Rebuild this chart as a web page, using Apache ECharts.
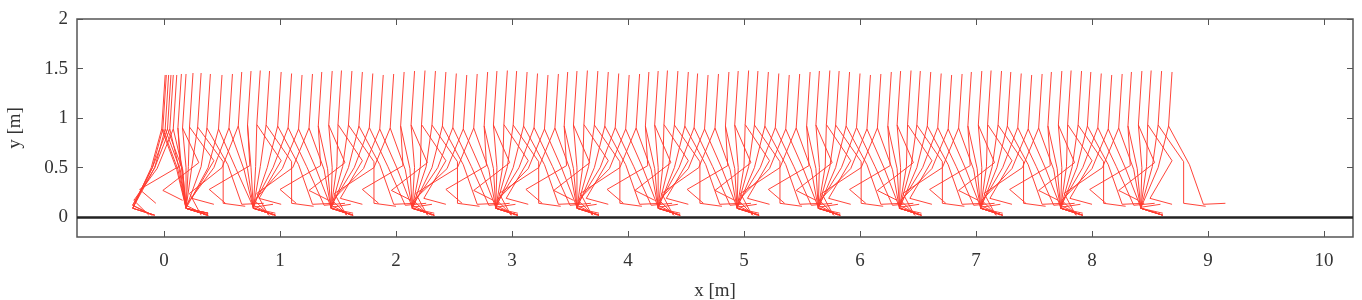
<!DOCTYPE html>
<html>
<head>
<meta charset="utf-8">
<script src="https://cdn.jsdelivr.net/npm/echarts@6/dist/echarts.min.js"></script>
<style>
  html, body { margin: 0; background: #fff; }
  #chart { width: 1362px; height: 300px; }
</style>
</head>
<body>
<div id="chart"></div>
<script>
const xTicks = [0, 1, 2, 3, 4, 5, 6, 7, 8, 9, 10]
const yTicks = [0, 0.5, 1, 1.5, 2]

// hip x of every frame (m)
const hipX = [
  -0.02, -0.01, 0.01, 0.03, 0.05, 0.08, 0.12, 0.16, 0.22, 0.29, 0.37,
  0.47, 0.56, 0.64, 0.72, 0.80, 0.88, 0.98, 1.07,
  1.16, 1.25, 1.33, 1.42, 1.50, 1.59, 1.68, 1.77,
  1.86, 1.95, 2.04, 2.13, 2.22, 2.31, 2.40, 2.49,
  2.58, 2.67, 2.76, 2.84, 2.93, 3.01, 3.10, 3.19,
  3.28, 3.37, 3.45, 3.53, 3.62, 3.71, 3.80, 3.89,
  3.98, 4.07, 4.15, 4.23, 4.31, 4.40, 4.49, 4.57,
  4.66, 4.75, 4.84, 4.92, 5.01, 5.09, 5.18, 5.27,
  5.36, 5.45, 5.54, 5.62, 5.71, 5.79, 5.88, 5.97,
  6.06, 6.15, 6.24, 6.32, 6.41, 6.49, 6.58, 6.67,
  6.76, 6.85, 6.93, 7.02, 7.10, 7.19, 7.27, 7.36,
  7.45, 7.54, 7.62, 7.71, 7.79, 7.88, 7.96, 8.05,
  8.14, 8.23, 8.31, 8.40, 8.48, 8.57, 8.66,
]
// hip height during the first frames, then by step phase
const startHipY = [0.89, 0.89, 0.89, 0.89, 0.89, 0.89, 0.90, 0.90, 0.91, 0.91, 0.90]
const stepHipY = [0.89, 0.90, 0.92, 0.93, 0.935, 0.93, 0.92, 0.905]
const torsoLen = 0.545
const torsoLean = 0.03

// gait phase of each leg in the start-up frames (after that one stride = 16 frames)
const startPhaseL = [6, 6, 6, 7, 7, 8, 10, 11, 12, 13, 14]
const startPhaseR = [1, 1, 1, 1, 2, 2, 3, 3, 4, 5, 5, 6, 7, 9, 10, 12, 13, 14, 15]
// ankle positions on the ground (m)
const footL = [-0.27, 0.77, 2.14, 3.56, 4.94, 6.34, 7.73]
const footR = [0.19, 1.44, 2.86, 4.26, 5.64, 7.04, 8.42]

// one leg over one stride, p0 = heel strike, p0..p9 on the ground
const kneeDx = [0.15, 0.13, 0.08, 0.03, -0.01, -0.05, -0.09, -0.13, -0.14, -0.14, 0.02, 0.14, 0.21, 0.22, 0.18, 0.16]
const kneeY = [0.49, 0.48, 0.49, 0.50, 0.51, 0.51, 0.50, 0.50, 0.49, 0.50, 0.52, 0.55, 0.57, 0.56, 0.53, 0.51]
const ankleDx = [0, 0, 0, 0, 0, 0, 0, 0, 0.01, 0.03, -0.33, -0.17, 0.02, 0.22, 0.30, 0.31]
const ankleY = [0.10, 0.09, 0.09, 0.09, 0.09, 0.09, 0.09, 0.12, 0.17, 0.24, 0.28, 0.27, 0.19, 0.14, 0.13, 0.12]
const toeDx = [0.17, 0.19, 0.19, 0.19, 0.19, 0.19, 0.19, 0.17, 0.13, 0.10, 0.14, 0.17, 0.19, 0.19, 0.19, 0.18]
const toeY = [0.13, 0.04, 0.02, 0.02, 0.02, 0.02, 0.02, 0.02, 0.02, 0.02, 0.14, 0.17, 0.13, 0.11, 0.14, 0.14]

function buildSticks() {
  const out = []
  const legs = [
    { start: startPhaseL, offset: 11, feet: footL, step: 0, prev: 0 },
    { start: startPhaseR, offset: 3, feet: footR, step: 0, prev: 0 },
  ]
  hipX.forEach((hx, i) => {
    const phaseL = i < startPhaseL.length ? startPhaseL[i] : (i - 11) % 16
    const hy = i < startHipY.length ? startHipY[i] : stepHipY[phaseL % 8]
    out.push({ coords: [[hx, hy], [hx + torsoLean, hy + torsoLen]] })
    legs.forEach((leg) => {
      const p = i < leg.start.length ? leg.start[i] : (i - leg.offset) % 16
      if (i > 0 && p < 10 && leg.prev >= 10) leg.step++
      leg.prev = p
      const ax = p < 10 ? leg.feet[leg.step] + ankleDx[p] : hx + ankleDx[p]
      out.push({
        coords: [
          [hx, hy],
          [hx + kneeDx[p], kneeY[p]],
          [ax, ankleY[p]],
          [ax + toeDx[p], toeY[p]],
        ],
      })
    })
  })
  return out
}

const chart = echarts.init(document.getElementById('chart'))
const font = 'Liberation Serif'
const tickStyle = { color: '#555', width: 1 }
const noLine = { show: false, onZero: false }

chart.setOption({
  animation: false,
  backgroundColor: '#fff',
  grid: {
    left: 77, right: 9, top: 19, bottom: 63,
    outerBoundsMode: 'none', containLabel: false,
    show: true, borderColor: '#555', borderWidth: 1.5,
  },
  xAxis: [
    {
      type: 'value', min: -0.75, max: 10.25, position: 'bottom',
      name: 'x [m]', nameLocation: 'middle', nameGap: 45,
      nameTextStyle: { fontFamily: font, fontSize: 19, color: '#333' },
      axisLine: noLine, splitLine: { show: false },
      axisTick: { inside: true, length: 6, lineStyle: tickStyle, customValues: xTicks },
      axisLabel: { fontFamily: font, fontSize: 19, color: '#333', margin: 15, customValues: xTicks },
    },
    {
      type: 'value', min: -0.75, max: 10.25, position: 'top',
      axisLine: noLine, splitLine: { show: false }, axisLabel: { show: false },
      axisTick: { inside: true, length: 6, lineStyle: tickStyle, customValues: xTicks },
    },
  ],
  yAxis: [
    {
      type: 'value', min: -0.2, max: 2, position: 'left',
      name: 'y [m]', nameLocation: 'middle', nameGap: 52, nameRotate: 90,
      nameTextStyle: { fontFamily: font, fontSize: 19, color: '#333' },
      axisLine: noLine, splitLine: { show: false },
      axisTick: { inside: true, length: 6, lineStyle: tickStyle, customValues: yTicks },
      axisLabel: { fontFamily: font, fontSize: 19, color: '#333', margin: 9, customValues: yTicks },
    },
    {
      type: 'value', min: -0.2, max: 2, position: 'right',
      axisLine: noLine, splitLine: { show: false }, axisLabel: { show: false },
      axisTick: { inside: true, length: 6, lineStyle: tickStyle, customValues: yTicks },
    },
  ],
  series: [
    {
      type: 'lines',
      coordinateSystem: 'cartesian2d',
      polyline: true,
      silent: true,
      lineStyle: { color: '#ff3a2e', width: 1, opacity: 0.95 },
      data: buildSticks(),
    },
    {
      type: 'line',
      data: [],
      z: 5,
      markLine: {
        silent: true,
        symbol: 'none',
        label: { show: false },
        lineStyle: { type: 'solid', color: '#222', width: 2.5 },
        data: [{ yAxis: 0 }],
      },
    },
  ],
})
</script>
</body>
</html>
